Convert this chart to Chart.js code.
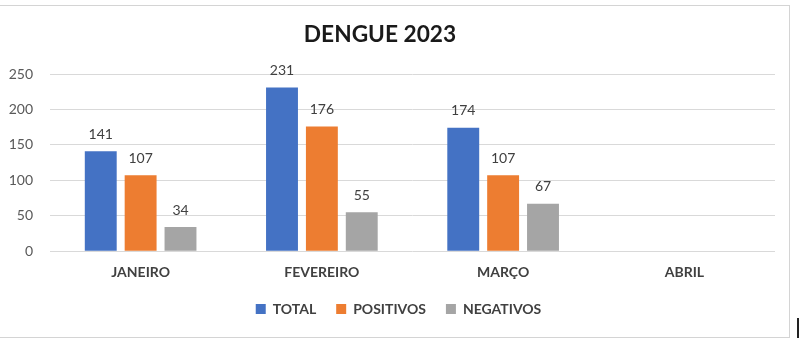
<!DOCTYPE html>
<html><head><meta charset="utf-8">
<script src="https://cdn.jsdelivr.net/npm/chart.js@4"></script>
<style>
html,body{margin:0;padding:0;background:#fff;overflow:hidden}
#wrap{position:relative;width:800px;height:353px}
#frame{position:absolute;left:-2px;top:5px;width:792px;height:333px;border:1px solid #d4d4d4;box-sizing:border-box}
#mark{position:absolute;left:797px;top:318px;width:2px;height:20px;background:#222}
canvas{position:absolute;left:0;top:0}
</style></head>
<body><div id="wrap"><div id="frame"></div><div id="mark"></div><canvas id="c" width="800" height="353"></canvas></div>
<script>
const title = 'DENGUE 2023';
const categories = ['JANEIRO','FEVEREIRO','MARÇO','ABRIL'];
const total = [141, 231, 174, null];
const positivos = [107, 176, 107, null];
const negativos = [34, 55, 67, null];
const yTicks = [0, 50, 100, 150, 200, 250];

const FONT = 'Lato, "Open Sans", sans-serif';

const valueLabels = {
  id: 'valueLabels',
  afterDatasetsDraw(chart) {
    const ctx = chart.ctx;
    ctx.save();
    ctx.font = '14px ' + FONT;
    ctx.fillStyle = '#404040';
    ctx.textAlign = 'center';
    ctx.textBaseline = 'bottom';
    chart.data.datasets.forEach((ds, i) => {
      chart.getDatasetMeta(i).data.forEach((bar, j) => {
        const v = ds.data[j];
        if (v == null) return;
        ctx.fillText(String(v), bar.x, bar.y - 10);
      });
    });
    ctx.restore();
  }
};

const titlePlugin = {
  id: 'titlePlugin',
  afterDraw(chart) {
    const ctx = chart.ctx;
    ctx.save();
    ctx.font = 'bold 22.7px ' + FONT;
    ctx.fillStyle = '#1a1a1a';
    ctx.textAlign = 'center';
    ctx.textBaseline = 'middle';
    ctx.fillText(title, 380, 35);
    ctx.restore();
  }
};

const legendFit = {
  id: 'legendFit',
  beforeLayout(chart) {
    const lg = chart.legend;
    if (lg && !lg._patched) {
      const orig = lg.fit;
      lg.fit = function() { orig.call(this); this.height -= 10; };
      lg._patched = true;
    }
  },
  afterLayout(chart) {
    const lg = chart.legend;
    if (lg) { lg.left += 8; lg.right += 8; }
  }
};

new Chart(document.getElementById('c'), {
  type: 'bar',
  data: {
    labels: categories,
    datasets: [
      {label: 'TOTAL', data: total, backgroundColor: '#4472C4'},
      {label: 'POSITIVOS', data: positivos, backgroundColor: '#ED7D31'},
      {label: 'NEGATIVOS', data: negativos, backgroundColor: '#A5A5A5'}
    ]
  },
  options: {
    responsive: false,
    animation: false,
    devicePixelRatio: 1,
    categoryPercentage: 0.66,
    barPercentage: 0.8,
    layout: {padding: {top: 74, left: 6, right: 25, bottom: 37}},
    plugins: {
      title: {display: false},
      tooltip: {enabled: false},
      legend: {
        position: 'bottom',
        labels: {
          boxWidth: 10, boxHeight: 10, padding: 20,
          color: '#404040',
          font: {family: FONT, size: 14, weight: 'bold'}
        }
      }
    },
    scales: {
      x: {
        grid: {display: false},
        border: {display: false},
        afterFit(axis) { axis.height -= 4; },
        ticks: {color: '#404040', font: {family: FONT, size: 14, weight: 'bold'}, padding: 5}
      },
      y: {
        min: 0, max: 250,
        afterBuildTicks(axis) { axis.ticks = yTicks.map(v => ({value: v})); },
        afterFit(axis) { axis.width = 44; },
        grid: {color: '#d9d9d9', drawTicks: false},
        border: {display: false},
        ticks: {color: '#595959', font: {family: FONT, size: 14}, padding: 17}
      }
    }
  },
  plugins: [valueLabels, titlePlugin, legendFit]
});
</script></body></html>
